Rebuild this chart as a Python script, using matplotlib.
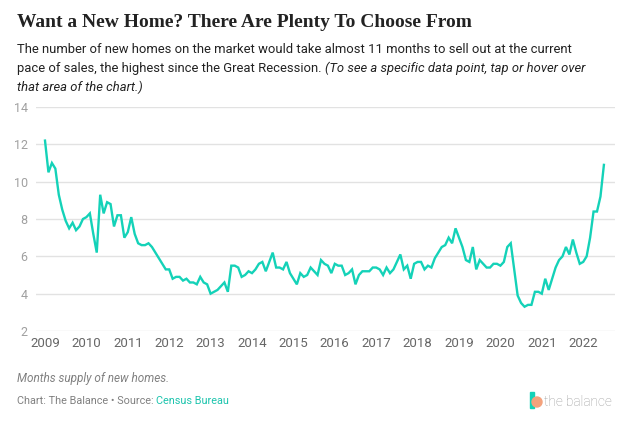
import matplotlib
matplotlib.use("Agg")
import matplotlib.pyplot as plt
import matplotlib.patches as mpatches
import numpy as np

# months supply of new homes, monthly Jan 2009 - Jul 2022
supply = [
    12.2, 10.5, 11.0, 10.7, 9.3, 8.5, 7.9, 7.5, 7.8, 7.4, 7.6, 8.0,   # 2009
    8.1, 8.3, 7.2, 6.2, 9.3, 8.3, 8.9, 8.8, 7.6, 8.2, 8.2, 7.0,       # 2010
    7.3, 8.1, 7.2, 6.7, 6.6, 6.6, 6.7, 6.5, 6.2, 5.9, 5.6, 5.3,       # 2011
    5.3, 4.8, 4.9, 4.9, 4.7, 4.8, 4.6, 4.6, 4.5, 4.9, 4.6, 4.5,       # 2012
    4.0, 4.1, 4.2, 4.4, 4.6, 4.1, 5.5, 5.5, 5.4, 4.9, 5.0, 5.2,       # 2013
    5.1, 5.3, 5.6, 5.7, 5.2, 5.7, 6.2, 5.4, 5.4, 5.3, 5.7, 5.1,       # 2014
    4.8, 4.5, 5.1, 4.9, 5.0, 5.4, 5.2, 5.0, 5.8, 5.6, 5.5, 5.1,       # 2015
    5.6, 5.5, 5.5, 5.0, 5.1, 5.3, 4.5, 5.0, 5.2, 5.2, 5.2, 5.4,       # 2016
    5.4, 5.3, 5.0, 5.4, 5.1, 5.3, 5.7, 6.1, 5.3, 5.5, 4.8, 5.6,       # 2017
    5.7, 5.7, 5.3, 5.5, 5.4, 5.9, 6.2, 6.5, 6.6, 7.0, 6.7, 7.5,       # 2018
    7.0, 6.5, 5.8, 5.7, 6.5, 5.3, 5.8, 5.6, 5.4, 5.4, 5.6, 5.6,       # 2019
    5.5, 5.7, 6.5, 6.7, 5.3, 3.9, 3.5, 3.3, 3.4, 3.4, 4.1, 4.1,       # 2020
    4.0, 4.8, 4.2, 4.8, 5.4, 5.8, 6.0, 6.5, 6.1, 6.9, 6.2, 5.6,       # 2021
    5.7, 6.0, 7.0, 8.4, 8.4, 9.2, 10.9,                               # 2022
]
years = list(range(2009, 2023))
yticks = [2, 4, 6, 8, 10, 12, 14]

t = 2009 + np.arange(len(supply)) / 12.0

teal = "#14d2b8"
fig = plt.figure(figsize=(6.38, 4.22), dpi=100)
ax = fig.add_axes([36 / 638, 1 - 331 / 422, (615 - 36) / 638, (331 - 107) / 422])

ax.plot(t, supply, color=teal, lw=1.7, solid_joinstyle="miter", zorder=3)
ax.set_ylim(2, 14)
ax.set_xlim(2009 - 9 / 41.4, 2009 + 570 / 41.4)
ax.set_yticks(yticks)
ax.set_xticks(years)
ax.grid(axis="y", color="#e2e2e2", lw=1)
for s in ax.spines.values():
    s.set_visible(False)
ax.tick_params(length=0)
ax.tick_params(axis="y", pad=6, labelcolor="#a0a0a0", labelsize=9)
ax.tick_params(axis="x", pad=4, labelcolor="#666666", labelsize=9.5)
for lab in ax.get_yticklabels() + ax.get_xticklabels():
    lab.set_family("Roboto")

# header
fig.text(17 / 638, 1 - 27 / 422, "Want a New Home? There Are Plenty To Choose From",
         family="Liberation Serif", weight="bold", fontsize=14, color="#222222", va="baseline")
sub = dict(family="Roboto", fontsize=9.4, color="#222222", va="baseline")
fig.text(17 / 638, 1 - 53 / 422,
         "The number of new homes on the market would take almost 11 months to sell out at the current",
         **sub)
fig.text(17 / 638, 1 - 72 / 422, "pace of sales, the highest since the Great Recession. ", **sub)
r = fig.canvas.get_renderer()
bb = fig.texts[-1].get_window_extent(renderer=r)
fig.text(bb.x1 / fig.bbox.width, 1 - 72 / 422,
         "(To see a specific data point, tap or hover over", style="italic", **sub)
fig.text(17 / 638, 1 - 91 / 422, "that area of the chart.)", style="italic", **sub)

# footer
fig.text(17 / 638, 1 - 382 / 422, "Months supply of new homes.",
         family="Roboto", style="italic", fontsize=8.5, color="#808080", va="baseline")
fig.text(17 / 638, 1 - 404 / 422, "Chart: The Balance \u2022 Source: ",
         family="Roboto", fontsize=7.8, color="#808080", va="baseline")
bb = fig.texts[-1].get_window_extent(renderer=r)
fig.text(bb.x1 / fig.bbox.width, 1 - 404 / 422, "Census Bureau",
         family="Roboto", fontsize=7.8, color="#1cc4ad", va="baseline")

# logo
fig.patches.append(mpatches.Rectangle((530 / 638, 1 - 408 / 422), 4 / 638, 16 / 422,
                                      transform=fig.transFigure, color=teal, zorder=2))
fig.patches.append(mpatches.Ellipse((537 / 638, 1 - 402 / 422), 10 / 638, 10 / 422,
                                    transform=fig.transFigure, color="#f4a27c", zorder=3))
fig.text(544 / 638, 1 - 406 / 422, "the balance",
         family="Roboto", weight="light", fontsize=9.8, color="#9a9a9a", va="baseline")

fig.savefig("out.png", dpi=100)
